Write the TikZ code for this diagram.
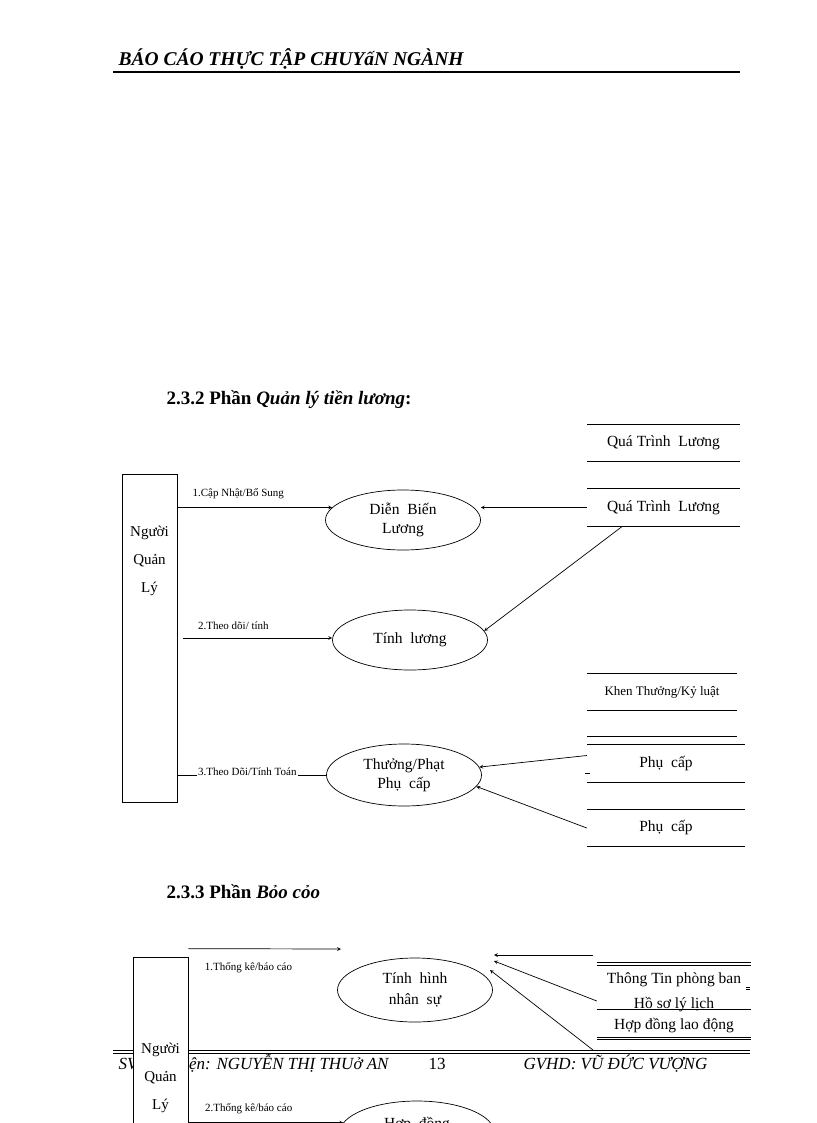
\documentclass[tikz,border=0pt]{standalone}
\usepackage{fontspec}
\setmainfont{Liberation Serif}
\usetikzlibrary{shapes.geometric,positioning}

\begin{document}
\begin{tikzpicture}[x=1pt, y=-1pt,
    proc/.style={draw, ellipse, line width=0.7pt, minimum width=155pt, minimum height=60pt,
                 inner sep=0pt, align=center, font=\fontsize{15.5}{19}\selectfont},
    store/.style={minimum width=153pt, minimum height=36pt, inner sep=0pt,
                  font=\fontsize{15.5}{18}\selectfont},
    actor/.style={draw, fill=white, line width=0.7pt, minimum width=55pt, inner sep=0pt},
    flow/.style={->, >=stealth, line width=0.7pt},
    lbl/.style={font=\fontsize{11}{12}\selectfont, inner sep=1pt}]

        \useasboundingbox (0,0) rectangle (816,1123);
        \clip (0,0) rectangle (816,1123);

        % ================= Tiêu đề trang =================
        \node[anchor=base west, font=\fontsize{19.5}{21}\selectfont\bfseries\itshape] (hdr) at (115,66) {BÁO CÁO THỰC TẬP CHUYấN NGÀNH};
        \draw[line width=2pt] (113,72) -- (740,72);

        % ================= 2.3.2 Quản lý tiền lương =================
        \node[anchor=base west, font=\fontsize{19}{21}\selectfont\bfseries] (sec1) at (163,404) {2.3.2 Phần \textit{Quản lý tiền lương}:};

        % 1. tác nhân
        \node[actor, minimum height=328pt] (ql) at (149.5,638) {};
        \node[align=center, font=\fontsize{15}{28}\selectfont] (qltxt) at (149.5,561) {Người\\Quản\\Lý};

        % 2. các tiến trình
        \node[proc] (db) at (403,520) {Diễn\ \ Biến\\Lương};
        \node[proc] (tl) at (410,640) {Tính\ \ lương};
        \node[proc, minimum height=62pt] (tp) at (404,775) {Thưởng/Phạt\\Phụ\ \ cấp};

        % 3. kho dữ liệu
        \node[store] (qt1) at (663.5,443) {Quá Trình\ \ Lương};
        \node[store, minimum height=37pt] (qt2) at (663.5,507.5) {Quá Trình\ \ Lương};
        \node[store, minimum width=150pt, font=\fontsize{13}{15}\selectfont] (kt) at (662,692) {Khen Thưởng/Kỷ luật};
        \node[store, minimum width=158pt, minimum height=37pt] (pc1) at (666,763.5) {Phụ\ \ cấp};
        \node[store, minimum width=158pt] (pc2) at (666,828) {Phụ\ \ cấp};
        \foreach \s in {qt1,qt2,kt,pc1,pc2} {
            \draw[line width=0.7pt] (\s.north west) -- (\s.north east) (\s.south west) -- (\s.south east);
        }
        \draw[line width=0.7pt] ([yshift=8pt]pc1.north west) -- ++(150,0);
        \draw[line width=0.5pt] (585,773) -- (590,773);

        % 4. luồng dữ liệu
        \draw[flow] (ql.east |- db.170) -- node[lbl, above right, pos=0.09, yshift=7pt] {1.Cập Nhật/Bổ Sung} (db.170);
        \draw[flow] (qt2.west) -- (qt2.west -| db.east);
        \draw[flow] ([xshift=-41pt]qt2.south) -- (tl.7);
        \draw[flow] ([xshift=6pt]ql.east) -- node[lbl, above right, pos=0.09, yshift=7pt] {2.Theo dõi/ tính} (ql.east -| tl.west);
        \draw[line width=0.7pt] (ql.east |- tp.west) -- node[lbl, fill=white, anchor=south, pos=0.47, yshift=-1.5pt] {3.Theo Dõi/Tính Toán} (tp.west);
        \draw[flow] ([yshift=8pt]pc1.west) -- (tp.6);
        \draw[flow] (pc2.west) -- (tp.351);

        % ================= 2.3.3 Báo cáo =================
        \node[anchor=base west, font=\fontsize{19}{21}\selectfont\bfseries] (sec2) at (163,898) {2.3.3 Phần \textit{Bỏo cỏo}};

        % 5. chân trang (bị tác nhân che một phần)
        \draw[line width=0.7pt] (113,1050) -- (750,1050) (113,1053) -- (750,1053);
        \node[anchor=base west, font=\fontsize{17}{19}\selectfont\itshape] (sv) at (115,1069) {SV thực hiện: NGUYỄN THỊ THUở AN};
        \node[anchor=base, font=\fontsize{17}{19}\selectfont] (pg) at (437,1069) {13};
        \node[anchor=base west, font=\fontsize{17}{19}\selectfont\itshape] (gv) at (520,1069) {GVHD: VŨ ĐỨC VƯỢNG};

        % 6. tác nhân và tiến trình
        \node[actor, minimum height=180pt] (ql2) at (160.5,1047) {};
        \node[align=center, font=\fontsize{15}{28}\selectfont] (ql2txt) at (160.5,1078) {Người\\Quản\\Lý};
        \node[proc, minimum height=64pt, font=\fontsize{15.5}{21}\selectfont] (ths) at (415,990) {Tính\ \ hình\\nhân\ \ sự};
        \node[proc, minimum height=64pt] (hdong) at (417,1133) {};
        \node[font=\fontsize{15.5}{18}\selectfont] (hdtxt) at (417,1125) {Hợp\ \ đồng};

        % 7. kho dữ liệu
        \node[store, minimum width=154pt, minimum height=28pt] (tt) at (674,980) {Thông Tin phòng ban};
        \node[store, minimum width=154pt, minimum height=20pt] (hs) at (674,1005) {Hồ sơ lý lịch};
        \node[store, minimum width=154pt, minimum height=22pt] (hd) at (674,1026) {Hợp đồng lao động};
        \draw[line width=0.7pt] (tt.north west) -- (tt.north east) ([yshift=3pt]tt.north west) -- ([yshift=3pt]tt.north east);
        \draw[line width=0.7pt] ([yshift=-4pt]hs.west) -- ([yshift=-4pt]hs.east);
        \draw[line width=0.7pt] (hd.south west) -- (hd.south east) ([yshift=-2pt]hd.south west) -- ([yshift=-2pt]hd.south east);
        \draw[line width=0.5pt] (746,987) -- (750,987) (746,989.5) -- (750,989.5);

        % 8. luồng dữ liệu
        \coordinate (tk1) at (341,949);
        \coordinate (in1) at (494,955);
        \coordinate (in2) at (494,961);
        \coordinate (in3) at (490,970);
        \coordinate (src1) at (593,955);
        \coordinate (src3) at (593,1050);
        \draw[flow] ([yshift=8pt]ql2.north east) -- node[lbl, below right, pos=0.1, yshift=-12pt] {1.Thống kê/báo cáo} (tk1);
        \draw[flow] (src1) -- (in1);
        \draw[flow] ([yshift=4pt]hs.west) -- (in2);
        \draw[flow] (src3) -- (in3);
        \draw[flow] (ql2.east |- hdong.172) -- node[lbl, above right, pos=0.1, yshift=7pt] {2.Thống kê/báo cáo} (hdong.172);

    \end{tikzpicture}
\end{document}
